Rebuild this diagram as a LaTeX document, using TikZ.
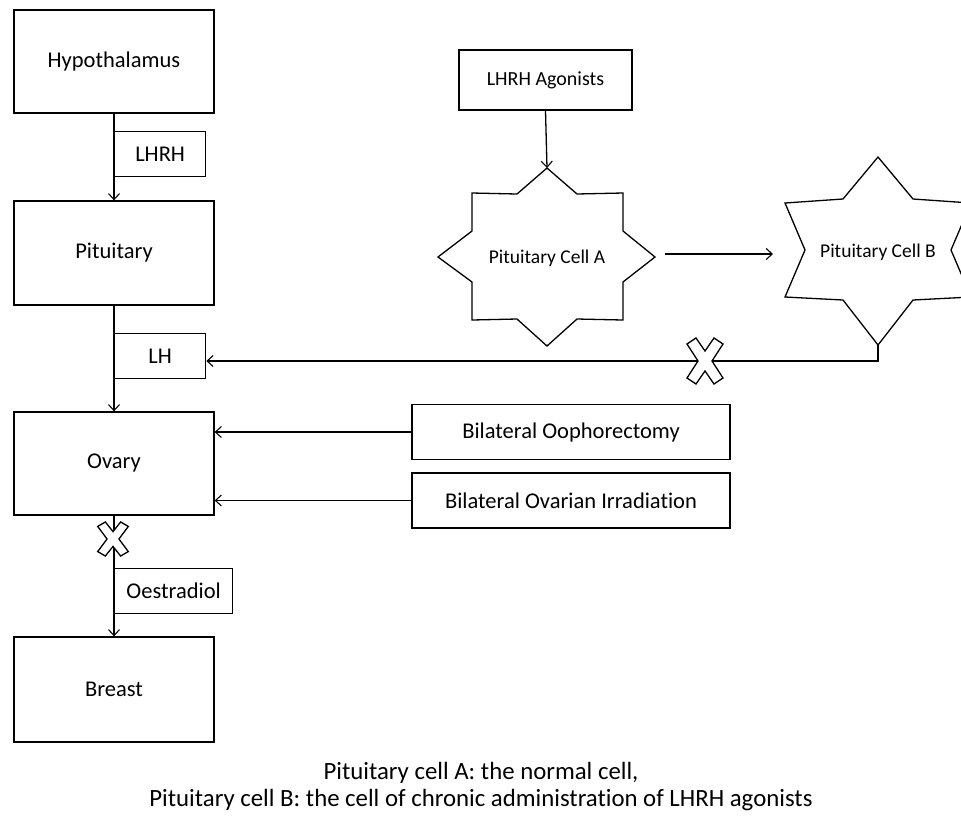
\documentclass[tikz,border=0pt]{standalone}
\usepackage{fontspec}
\setmainfont{Carlito}[Ligatures=CommonOff]
\usetikzlibrary{arrows.meta}
\tikzset{
  box/.style={draw, line width=1.3pt, fill=white, inner sep=0pt, font=\fontsize{22.5}{26}\selectfont},
  lbl/.style={draw, line width=1.3pt, fill=white, inner sep=0pt, anchor=north west, font=\fontsize{22.5}{26}\selectfont},
  conn/.style={line width=1.3pt, -{Straight Barb[length=6pt,width=11pt,line width=1.1pt]}},
  xcross/.pic={\draw[line width=1.3pt, fill=white, line join=miter]
    (-18,-17)--(-9,-23)--(0,-10)--(9,-23)--(18,-17)--(7,0)--(18,17)--(9,23)--(0,10)--(-9,23)--(-18,17)--(-7,0)--cycle;}
}
\begin{document}
\begin{tikzpicture}[x=1pt,y=-1pt]
\clip (0,0) rectangle (961,815);
\fill[white] (0,0) rectangle (961,815);

% left column
\node[box, minimum width=200pt, minimum height=103pt] (hyp) at (114,61.5) {Hypothalamus};
\node[box, minimum width=200pt, minimum height=104pt] (pit) at (114,253) {Pituitary};
\node[box, minimum width=200pt, minimum height=103pt] (ova) at (114,463.5) {Ovary};
\node[box, minimum width=200pt, minimum height=105pt] (bre) at (114,689.5) {Breast};

\draw[conn] (hyp.south) -- (pit.north);
\draw[conn] (pit.south) -- (ova.north);
\draw[conn] (ova.south) -- (bre.north);

\node[lbl, minimum width=91pt, minimum height=45pt] (lhrh) at (114,131) {LHRH};
\node[lbl, minimum width=91pt, minimum height=45pt] (lh) at (114,333) {LH};
\node[lbl, minimum width=118pt, minimum height=45pt] (oes) at (114,568) {Oestradiol};

\pic at (113,539) [xscale=0.85, yscale=0.74] {xcross};

% right part
\node[box, minimum width=173pt, minimum height=60pt, font=\fontsize{20}{24}\selectfont] (ago) at (545.5,80) {LHRH Agonists};

\draw[line width=1.3pt, fill=white, line join=miter]
  (547,168)--(577,194)--(623,193)--(623,231)--(655,257)--(623,282)--(623,320)--(577,319)--(547,346)
  --(517,319)--(472,320)--(472,282)--(438,257)--(472,231)--(472,193)--(517,194)--cycle;
\node[font=\fontsize{19.5}{23}\selectfont] (cellA) at (547,258) {Pituitary Cell A};
\coordinate (Atop) at (547,168);
\coordinate (Aright) at (665,254);

\draw[line width=1.3pt, fill=white, line join=miter]
  (878,157)--(913,199)--(971,203)--(951,250)--(971,297)--(913,300)--(878,345)
  --(843,300)--(785,297)--(805,250)--(785,203)--(843,199)--cycle;
\node[font=\fontsize{19.5}{23}\selectfont] (cellB) at (878,252) {Pituitary Cell B};
\coordinate (Bleft) at (773,254);
\coordinate (Bbot) at (878,345);
\coordinate (Bturn) at (878,361);

\draw[conn] (ago.south) -- (Atop);
\draw[conn] (Aright) -- (Bleft);
\draw[conn] (Bbot) -- (Bturn) -- (lh.east |- Bturn);
\pic at (705,361) {xcross};

\node[box, minimum width=318pt, minimum height=55pt] (ooph) at (571,432) {Bilateral Oophorectomy};
\node[box, minimum width=318pt, minimum height=55pt] (irr) at (571,500.5) {Bilateral Ovarian Irradiation};
\draw[conn] (ooph.west) -- (ova.east |- ooph.west);
\draw[conn] (irr.west) -- (ova.east |- irr.west);

% caption
\node[font=\fontsize{24.8}{28}\selectfont] (cap1) at (481,773) {Pituitary cell A: the normal cell,};
\node[font=\fontsize{24.8}{28}\selectfont] (cap2) at (481,800) {Pituitary cell B: the cell of chronic administration of LHRH agonists};
\end{tikzpicture}
\end{document}
